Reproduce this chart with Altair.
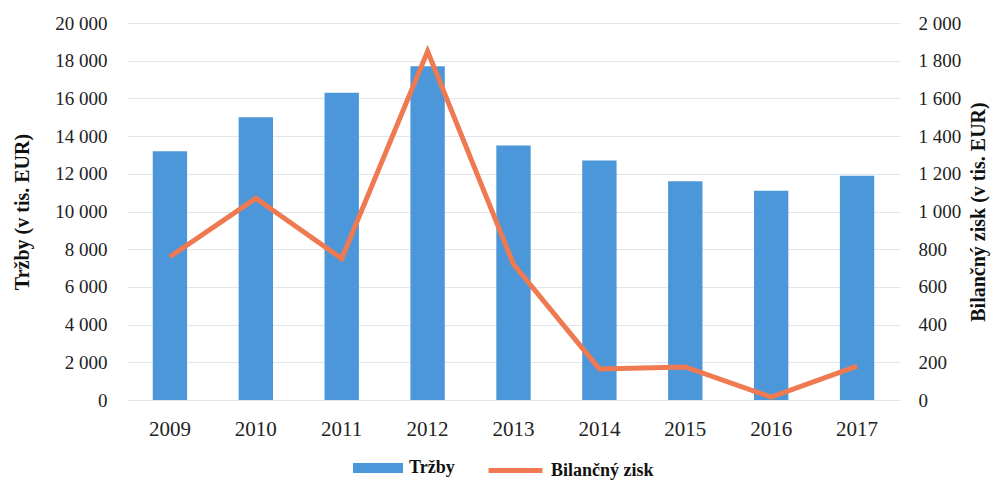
import altair as alt
import pandas as pd

years = ["2009", "2010", "2011", "2012", "2013", "2014", "2015", "2016", "2017"]
trzby = [13200, 15000, 16300, 17700, 13500, 12700, 11600, 11100, 11900]
zisk = [760, 1070, 750, 1850, 720, 165, 175, 15, 180]

df = pd.DataFrame({"rok": years, "trzby": trzby, "zisk": zisk,
                   "s1": ["Tržby"] * len(years), "s2": ["Bilančný zisk"] * len(years)})

BLUE = "#4b97d9"
ORANGE = "#ef7a52"
FONT = "Liberation Serif"

x = alt.X("rok:N", sort=years,
          scale=alt.Scale(paddingInner=0.6, paddingOuter=0.3),
          axis=alt.Axis(title=None, labelAngle=0, labelFontSize=21, labelPadding=18,
                        ticks=False, domain=False, labelColor="#222"))

fmt = "replace(format(datum.value, ','), ',', ' ')"

bars = alt.Chart(df).mark_bar().encode(
    x=x,
    y=alt.Y("trzby:Q", scale=alt.Scale(domain=[0, 20000]),
            axis=alt.Axis(title="Tržby (v tis. EUR)", values=list(range(0, 20001, 2000)),
                          labelExpr=fmt, labelFontSize=19, labelPadding=20, ticks=False,
                          domain=False, grid=True, gridColor="#dfe6ee", gridWidth=1,
                          titleFontSize=20, titleFontWeight="bold", titlePadding=22,
                          labelColor="#222", titleColor="#111")),
    fill=alt.Fill("s1:N", scale=alt.Scale(domain=["Tržby"], range=[BLUE]),
                  legend=alt.Legend(title=None, orient="none", legendX=226, legendY=420,
                                    symbolType="M-1,-0.2H1V0.2H-1Z", symbolSize=2500,
                                    symbolStrokeWidth=0, labelFontSize=18,
                                    labelFontWeight="bold", labelColor="#111", labelOffset=6)),
)

line = alt.Chart(df).mark_line(strokeWidth=5).encode(
    x=x,
    y=alt.Y("zisk:Q", scale=alt.Scale(domain=[0, 2000]),
            axis=alt.Axis(title="Bilančný zisk (v tis. EUR)", orient="right",
                          values=list(range(0, 2001, 200)), labelExpr=fmt,
                          labelFontSize=19, labelPadding=18, ticks=False, domain=False,
                          grid=False, titleFontSize=20, titleFontWeight="bold",
                          titlePadding=28, titleAngle=270, labelColor="#222", titleColor="#111")),
    stroke=alt.Stroke("s2:N", scale=alt.Scale(domain=["Bilančný zisk"], range=[ORANGE]),
                      legend=alt.Legend(title=None, orient="none", legendX=359, legendY=418,
                                        symbolType="stroke", symbolSize=2900,
                                        symbolStrokeWidth=5, labelFontSize=18,
                                        labelFontWeight="bold", labelColor="#111", labelOffset=6)),
)

chart = alt.layer(bars, line).resolve_scale(y="independent").properties(
    width=773, height=377,
    autosize=alt.AutoSizeParams(type="none"),
    padding={"left": 119, "top": 15, "right": 98, "bottom": 82},
).configure(font=FONT).configure_view(stroke=None).configure_legend(labelFont=FONT)

chart.save("out.html", embed_options={"renderer": "svg", "actions": False})
